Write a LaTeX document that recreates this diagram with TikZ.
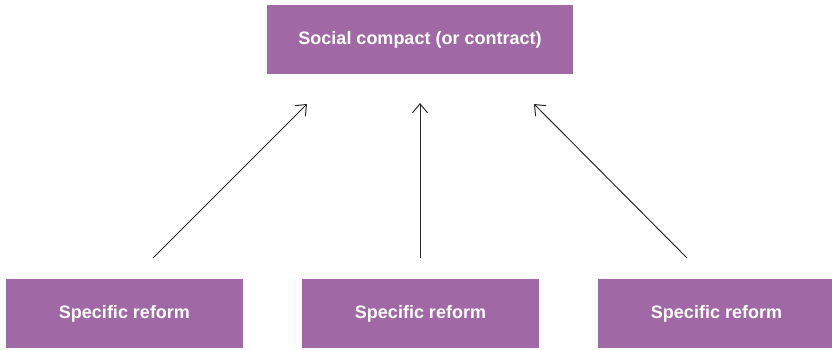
\documentclass[tikz,border=0pt]{standalone}
\usepackage{fontspec}
\setmainfont{Liberation Sans}
\usetikzlibrary{arrows.meta}
\definecolor{boxpurple}{HTML}{A069A5}
\definecolor{arrowgray}{HTML}{2A2A2A}
\tikzset{
  pbox/.style={fill=boxpurple, draw=none, inner sep=0pt, text=white,
    font=\fontsize{18}{20}\selectfont\bfseries},
  arr/.style={draw=arrowgray, line width=1pt,
    -{Straight Barb[length=9pt, width=15pt, line width=1pt]}}
}
\begin{document}
\begin{tikzpicture}[x=1pt,y=-1pt]
\useasboundingbox (0,0) rectangle (832,349);
\node[pbox, minimum width=306pt, minimum height=69pt] (top) at (420,39.5) {Social compact (or contract)};
\node[pbox, minimum width=237pt, minimum height=69pt] (b1) at (124.5,313.5) {Specific reform};
\node[pbox, minimum width=237pt, minimum height=69pt] (b2) at (420.5,313.5) {Specific reform};
\node[pbox, minimum width=237pt, minimum height=69pt] (b3) at (716.5,313.5) {Specific reform};
\coordinate (s1) at (153,258);
\coordinate (s2) at (420,258);
\coordinate (s3) at (687,258);
\coordinate (t1) at (307,104);
\coordinate (t2) at (420,103);
\coordinate (t3) at (534,104);
\draw[arr] (s1) -- (t1);
\draw[arr] (s2) -- (t2);
\draw[arr] (s3) -- (t3);
\end{tikzpicture}
\end{document}
